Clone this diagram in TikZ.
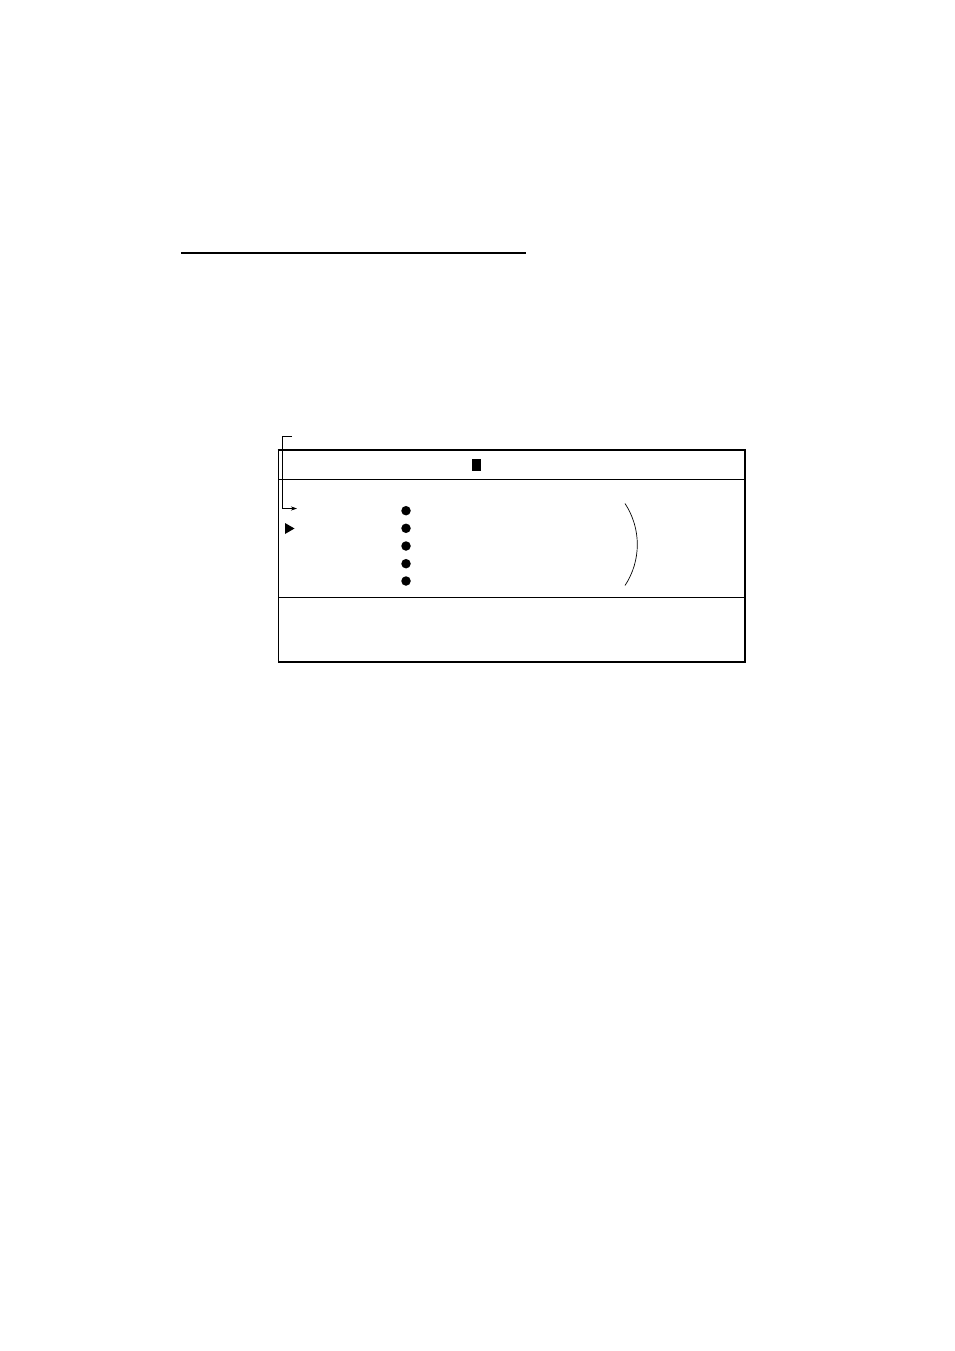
\documentclass[tikz,border=0pt]{standalone}
\usetikzlibrary{arrows.meta}
\begin{document}
\begin{tikzpicture}[x=1pt,y=-1pt,
  thinline/.style={line width=0.9pt},
  thickline/.style={line width=1.8pt},
  dotmark/.style={circle,fill=black,inner sep=0pt,minimum size=9.5pt}]
\useasboundingbox (0,0) rectangle (954,1351);
% top rule
\draw[line width=1.2pt] (181,253) -- (526,253);
% box
\coordinate (tl) at (278,450);
\coordinate (br) at (745,662);
\draw[thinline] (tl) rectangle (br);
\draw[thickline] (277.5,450) -- (745,450) -- (745,662) -- (277.5,662);
\draw[thinline] (278,479) -- (745,479);
\draw[thinline] (278,597) -- (745,597);
% cursor block
\fill (472,459) rectangle (481,471);
% pointer
\coordinate (p0) at (292,436);
\coordinate (p1) at (282.5,436);
\coordinate (p2) at (282.5,508.5);
\coordinate (p3) at (297,508.5);
\draw[line width=0.8pt,-{Stealth[length=6pt,width=4pt]}] (p0) -- (p1) -- (p2) -- (p3);
% triangle marker
\fill (285,523) -- (294.5,528.5) -- (285,534) -- cycle;
% dots
\foreach \i/\y in {1/510.7,2/528.3,3/546,4/563.7,5/581}
  \node[dotmark] (d\i) at (406,\y) {};
% arc
\draw[line width=0.7pt] (625,503.5) arc[start angle=-33.4,end angle=33.4,radius=74.5];
\end{tikzpicture}
\end{document}
